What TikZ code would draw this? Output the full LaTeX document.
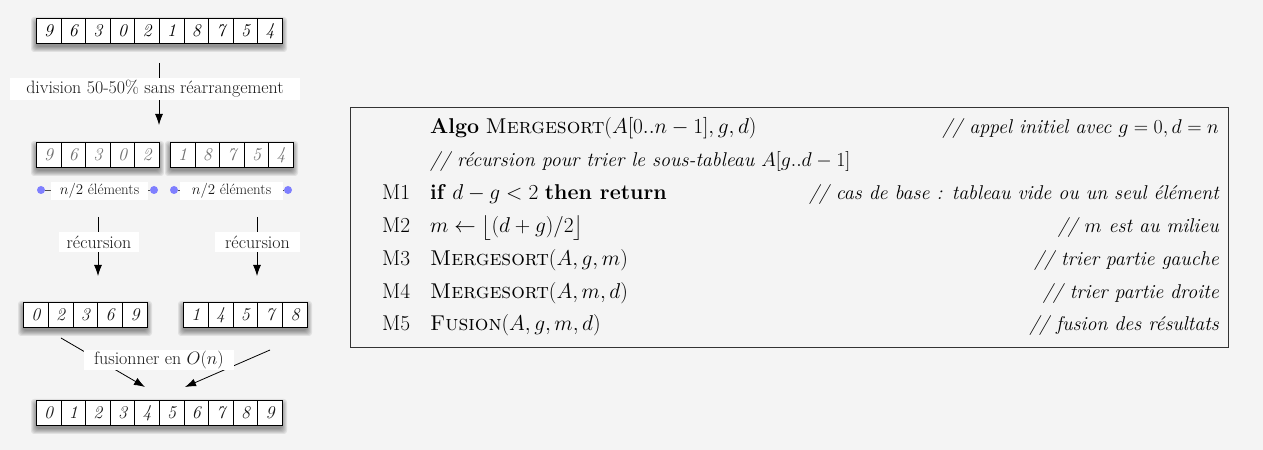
\RequirePackage{fix-cm}
\documentclass[tikz,border=0pt]{standalone}
\usepackage{amsmath}
\usetikzlibrary{arrows.meta}
\definecolor{bgcol}{HTML}{F4F4F4}
\definecolor{dotblue}{HTML}{7F7FFF}
\definecolor{gdigit}{HTML}{707070}
\definecolor{ink}{HTML}{1A1A1A}
\tikzset{
  cell/.style={draw=black, line width=0.8bp, fill=white, minimum height=25bp,
    inner sep=0pt, anchor=north west, font=\fontsize{18}{18}\selectfont\itshape},
  lbl/.style={fill=white, inner sep=0pt, text=ink, font=\fontsize{18}{18}\selectfont},
  smalllbl/.style={fill=white, inner sep=0pt, text=ink, font=\fontsize{15}{15}\selectfont},
  arr/.style={line width=0.8bp, draw=black, -{Latex[length=11bp,width=8bp]}},
  dimline/.style={line width=0.8bp, draw=black!70},
  dotn/.style={circle, fill=dotblue, minimum size=8bp, inner sep=0pt},
  codetxt/.style={inner sep=0pt, anchor=base west, font=\fontsize{21.5}{24}\selectfont},
  cmttxt/.style={inner sep=0pt, anchor=base east, font=\fontsize{20}{24}\selectfont\itshape},
  framebox/.style={draw=black!80, line width=0.9bp, inner sep=0pt, anchor=north west}
}
% #1 name, #2 x, #3 y, #4 cell width, #5 number of cells, #6 digit colour, #7 digits
\newcommand\myarray[7]{%
  \foreach \k in {1,...,6}{%
    \fill[black, opacity=0.08, rounded corners=3bp]
      ({#2-\k+1},{#3+4-\k+1}) rectangle ({#2+#5*#4+\k-1},{#3+29+\k-1});}%
  \foreach \d [count=\i from 0] in {#7}{%
    \node[cell, minimum width=#4bp, text=#6] (#1\i) at ({#2+\i*#4},#3) {\d};}%
}
\begin{document}
\begin{tikzpicture}[x=1bp,y=-1bp]
\useasboundingbox (0,0) rectangle (1263,450);
\fill[bgcol] (0,0) rectangle (1263,450);

% arrays
\myarray{a}{36}{18}{24.6}{10}{black}{9,6,3,0,2,1,8,7,5,4}
\myarray{b}{36}{142}{24.6}{5}{gdigit}{9,6,3,0,2}
\myarray{c}{170}{142}{24.6}{5}{gdigit}{1,8,7,5,4}
\myarray{d}{23}{302}{24.8}{5}{ink}{0,2,3,6,9}
\myarray{e}{183}{302}{24.8}{5}{ink}{1,4,5,7,8}
\myarray{f}{36}{400}{24.6}{10}{ink}{0,1,2,3,4,5,6,7,8,9}

% division
\coordinate (s1) at (159,63);
\coordinate (e1) at (159,125);
\draw[arr] (s1) -- (e1);
\node[lbl, minimum width=290bp, minimum height=22bp] (l1) at (155,89) {division 50-50\% sans réarrangement};

% n/2 elements
\node[dotn] (p1) at (41,190) {};
\node[dotn] (p2) at (154,190) {};
\node[dotn] (p3) at (174,190) {};
\node[dotn] (p4) at (288,190) {};
\draw[dimline] (p1) -- (p2);
\draw[dimline] (p3) -- (p4);
\node[smalllbl, minimum width=97bp, minimum height=18bp] (h1) at (99.5,191) {$n/2$ éléments};
\node[smalllbl, minimum width=103bp, minimum height=18bp] (h2) at (231.5,191) {$n/2$ éléments};

% recursion
\coordinate (s2) at (98,217);
\coordinate (e2) at (98,276);
\draw[arr] (s2) -- (e2);
\node[lbl, minimum width=80bp, minimum height=20bp] (l2) at (99,242) {récursion};
\coordinate (s3) at (257,217);
\coordinate (e3) at (257,276);
\draw[arr] (s3) -- (e3);
\node[lbl, minimum width=85bp, minimum height=20bp] (l3) at (257.5,242) {récursion};

% fusion
\coordinate (s4) at (61,338);
\coordinate (e4) at (145,387);
\draw[arr] (s4) -- (e4);
\coordinate (s5) at (270,350);
\coordinate (e5) at (185,387);
\draw[arr] (s5) -- (e5);
\node[lbl, minimum width=150bp, minimum height=20bp] (l4) at (159,360) {fusionner en $O(n)$};

% algorithm box
\node[framebox, minimum width=878bp, minimum height=240bp] (box) at (350,107) {};

\node[codetxt] (c1) at (430,134) {\textbf{Algo} \textsc{Mergesort}$(A[0..n-1],g,d)$};
\node[cmttxt] (k1) at (1219,134) {// appel initiel avec $g=0,d=n$};
\node[cmttxt, anchor=base west] (k2) at (430,167) {// récursion pour trier le sous-tableau $A[g..d-1]$};

\node[codetxt] (m1) at (382,200) {M1};
\node[codetxt] (c3) at (430,200) {\textbf{if} $d-g<2$ \textbf{then return}};
\node[cmttxt] (k3) at (1219,200) {// cas de base : tableau vide ou un seul élément};

\node[codetxt] (m2) at (382,233) {M2};
\node[codetxt] (c4) at (430,233) {$m\gets\bigl\lfloor(d+g)/2\bigr\rfloor$};
\node[cmttxt] (k4) at (1219,233) {// $m$ est au milieu};

\node[codetxt] (m3) at (382,266) {M3};
\node[codetxt] (c5) at (430,266) {\textsc{Mergesort}$(A,g,m)$};
\node[cmttxt] (k5) at (1219,266) {// trier partie gauche};

\node[codetxt] (m4) at (382,299) {M4};
\node[codetxt] (c6) at (430,299) {\textsc{Mergesort}$(A,m,d)$};
\node[cmttxt] (k6) at (1219,299) {// trier partie droite};

\node[codetxt] (m5) at (382,331) {M5};
\node[codetxt] (c7) at (430,331) {\textsc{Fusion}$(A,g,m,d)$};
\node[cmttxt] (k7) at (1219,331) {// fusion des résultats};
\end{tikzpicture}
\end{document}
